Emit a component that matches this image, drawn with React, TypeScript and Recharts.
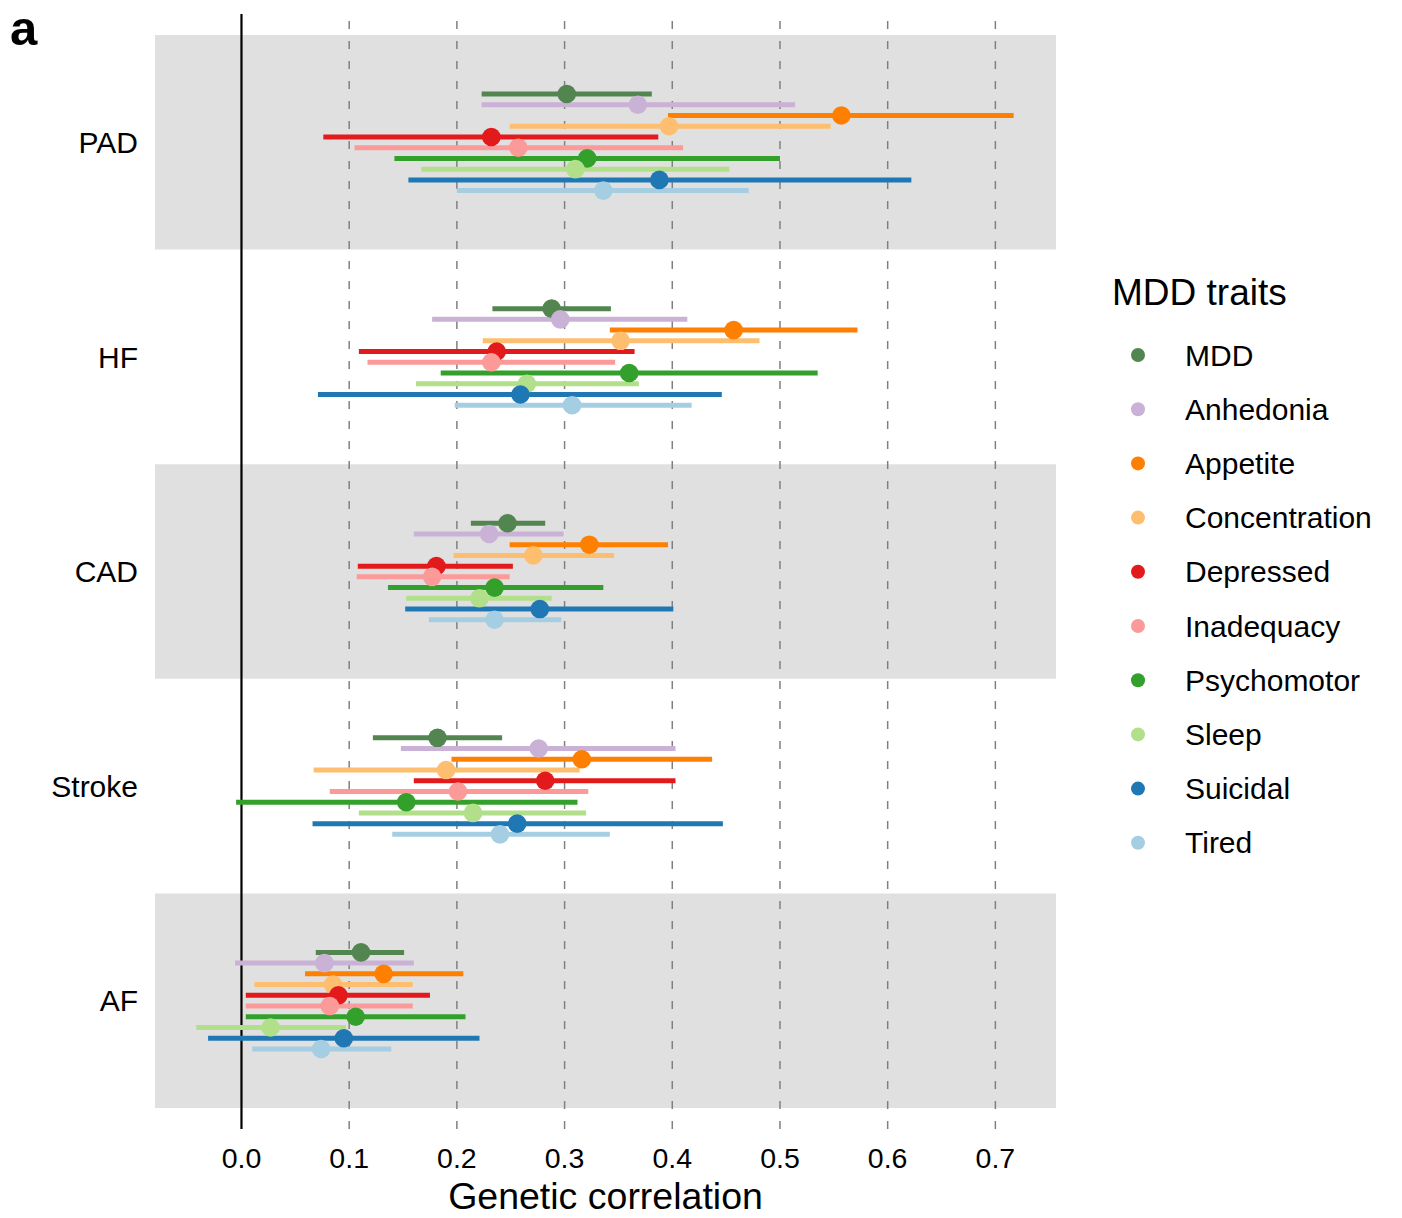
import {
  ScatterChart,
  Scatter,
  XAxis,
  YAxis,
  ErrorBar,
  ReferenceArea,
  ReferenceLine,
} from "recharts";

const outcomes = ["PAD", "HF", "CAD", "Stroke", "AF"];
const traits = [
  "MDD",
  "Anhedonia",
  "Appetite",
  "Concentration",
  "Depressed",
  "Inadequacy",
  "Psychomotor",
  "Sleep",
  "Suicidal",
  "Tired",
];
const colors = [
  "#52854f",
  "#cab2d6",
  "#ff7f00",
  "#fdbf6f",
  "#e31a1c",
  "#fb9a99",
  "#33a02c",
  "#b2df8a",
  "#1f78b4",
  "#a6cee3",
];

// one row per outcome, one column per trait
const rg = [
  [0.302, 0.368, 0.557, 0.397, 0.232, 0.257, 0.321, 0.31, 0.388, 0.336],
  [0.288, 0.296, 0.457, 0.352, 0.237, 0.232, 0.36, 0.265, 0.259, 0.307],
  [0.247, 0.23, 0.323, 0.271, 0.181, 0.177, 0.235, 0.221, 0.277, 0.235],
  [0.182, 0.276, 0.316, 0.19, 0.282, 0.201, 0.153, 0.215, 0.256, 0.24],
  [0.111, 0.077, 0.132, 0.085, 0.09, 0.082, 0.106, 0.027, 0.095, 0.074],
];
const lower = [
  [0.223, 0.223, 0.396, 0.249, 0.076, 0.105, 0.142, 0.167, 0.155, 0.2],
  [0.233, 0.177, 0.342, 0.224, 0.109, 0.117, 0.185, 0.162, 0.071, 0.198],
  [0.213, 0.16, 0.249, 0.197, 0.108, 0.107, 0.136, 0.153, 0.152, 0.174],
  [0.122, 0.148, 0.195, 0.067, 0.16, 0.082, -0.005, 0.109, 0.066, 0.14],
  [0.069, -0.006, 0.059, 0.012, 0.004, 0.004, 0.004, -0.042, -0.031, 0.01],
];
const upper = [
  [0.381, 0.514, 0.717, 0.547, 0.387, 0.41, 0.5, 0.453, 0.622, 0.471],
  [0.343, 0.414, 0.572, 0.481, 0.365, 0.347, 0.535, 0.369, 0.446, 0.418],
  [0.282, 0.299, 0.396, 0.346, 0.252, 0.249, 0.336, 0.288, 0.401, 0.297],
  [0.242, 0.403, 0.437, 0.314, 0.403, 0.322, 0.312, 0.32, 0.447, 0.342],
  [0.151, 0.16, 0.206, 0.159, 0.175, 0.159, 0.208, 0.097, 0.221, 0.139],
];
const xTicks = [0, 0.1, 0.2, 0.3, 0.4, 0.5, 0.6, 0.7];
const shaded = ["PAD", "CAD", "AF"];

const font = "'Liberation Sans', Arial, sans-serif";

// outcome g sits at y = 5 - g; traits dodged inside the band
const series = traits.map((trait, k) =>
  outcomes.map((o, g) => ({
    outcome: o,
    trait,
    x: rg[g][k],
    y: 5 - g + 0.225 - 0.05 * k,
    err: [rg[g][k] - lower[g][k], upper[g][k] - rg[g][k]],
  }))
);

function Dot(props: any) {
  const { cx, cy, fill } = props;
  return <circle cx={cx} cy={cy} r={9.3} fill={fill} />;
}

function NoDot() {
  return <g />;
}

export default function App() {
  return (
    <div style={{ position: "absolute", left: 0, top: 0, width: 1402, height: 1218, background: "#fff", fontFamily: font }}>
      <ScatterChart width={1402} height={1218} margin={{ top: 14, right: 346, bottom: 0, left: 0 }}>
        <XAxis
          type="number"
          dataKey="x"
          domain={[-0.0803, 0.7563]}
          allowDataOverflow
          ticks={xTicks}
          tickFormatter={(v: number) => v.toFixed(1)}
          axisLine={false}
          tickLine={false}
          tickSize={0}
          tickMargin={19}
          height={89}
          tick={{ fontSize: 28.5, fill: "#000", fontFamily: font }}
          label={{ value: "Genetic correlation", position: "insideBottom", offset: 9, fontSize: 37.5, fill: "#000", fontFamily: font }}
        />
        <YAxis
          type="number"
          dataKey="y"
          domain={[0.402, 5.598]}
          allowDataOverflow
          ticks={[5, 4, 3, 2, 1]}
          tickFormatter={(v: number) => outcomes[5 - v]}
          axisLine={false}
          tickLine={false}
          tickSize={0}
          tickMargin={17}
          width={155}
          tick={{ fontSize: 30, fill: "#000", fontFamily: font }}
        />
        {outcomes.map((o, g) =>
          shaded.includes(o) ? (
            <ReferenceArea key={o} y1={5 - g - 0.5} y2={5 - g + 0.5} fill="#e0e0e0" fillOpacity={1} stroke="none" />
          ) : null
        )}
        {xTicks.slice(1).map((t) => (
          <ReferenceLine key={t} x={t} stroke="#808080" strokeWidth={1.5} strokeDasharray="8 12" />
        ))}
        <ReferenceLine x={0} stroke="#000" strokeWidth={2.2} />
        {series.map((data, k) => (
          <Scatter key={"bar" + k} data={data} fill={colors[k]} shape={NoDot} isAnimationActive={false}>
            <ErrorBar dataKey="err" direction="x" width={0} stroke={colors[k]} strokeWidth={5} isAnimationActive={false} />
          </Scatter>
        ))}
        {series.map((data, k) => (
          <Scatter key={"pt" + k} name={traits[k]} data={data} fill={colors[k]} shape={Dot} isAnimationActive={false} />
        ))}
      </ScatterChart>
      <svg width={1402} height={1218} style={{ position: "absolute", left: 0, top: 0, pointerEvents: "none" }}>
        <text x={10} y={45} fontSize={49} fontWeight="bold" fontFamily={font} fill="#000">
          a
        </text>
        <text x={1112} y={305} fontSize={37} fontFamily={font} fill="#000">
          MDD traits
        </text>
        {traits.map((t, k) => (
          <g key={t}>
            <circle cx={1138} cy={355 + 54.2 * k} r={7} fill={colors[k]} />
            <text x={1185} y={355 + 54.2 * k} dy="0.355em" fontSize={30} fontFamily={font} fill="#000">
              {t}
            </text>
          </g>
        ))}
      </svg>
    </div>
  );
}
